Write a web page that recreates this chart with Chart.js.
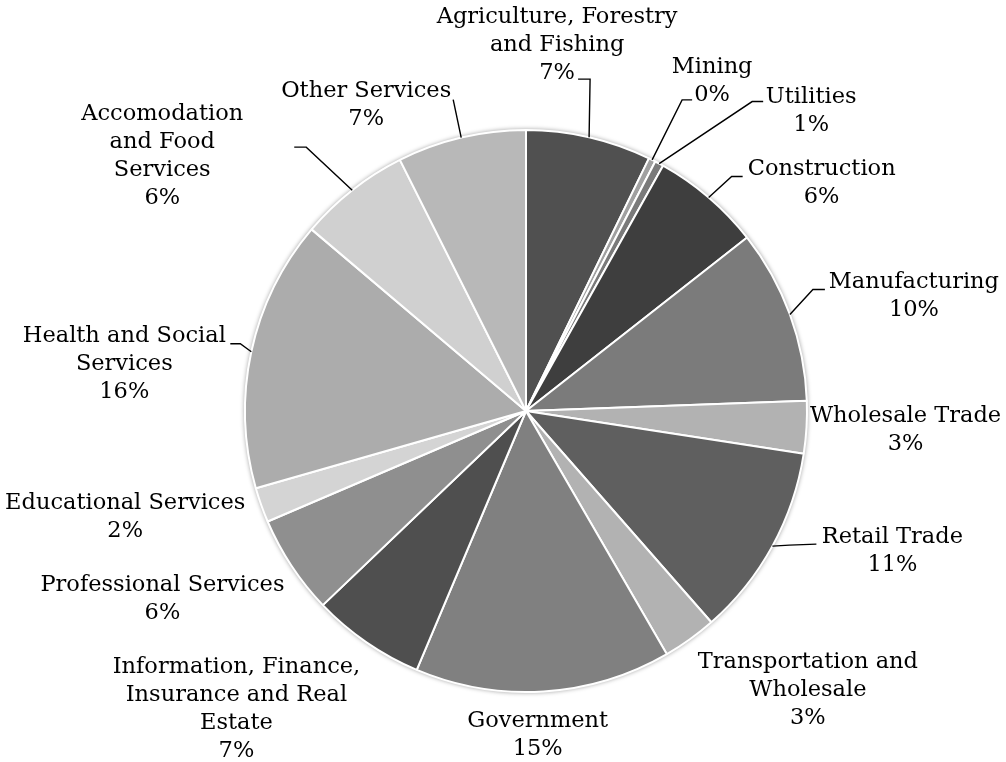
<!DOCTYPE html>
<html>
<head>
<meta charset="utf-8">
<script src="https://cdn.jsdelivr.net/npm/chart.js@4.4.0/dist/chart.umd.min.js"></script>
<style>
  html, body { margin: 0; padding: 0; background: #fff; }
  #wrap { width: 1006px; height: 762px; }
</style>
</head>
<body>
<div id="wrap"><canvas id="grafico" width="1006" height="762"></canvas></div>
<script>
// Sectors (label lines as they wrap in the original)
const setores = [
  ['Agriculture, Forestry', 'and Fishing'],
  ['Mining'],
  ['Utilities'],
  ['Construction'],
  ['Manufacturing'],
  ['Wholesale Trade'],
  ['Retail Trade'],
  ['Transportation and', 'Wholesale'],
  ['Government'],
  ['Information, Finance,', 'Insurance and Real', 'Estate'],
  ['Professional Services'],
  ['Educational Services'],
  ['Health and Social', 'Services'],
  ['Accomodation', 'and Food', 'Services'],
  ['Other Services']
];

// Share of each sector (percent)
const valores = [7.2, 0.4, 0.5, 6.3, 10.0, 3.0, 11.1, 3.1, 14.7, 6.5, 5.7, 2.0, 15.6, 6.4, 7.4];

const cores = ['#505050', '#a0a0a0', '#7a7a7a', '#3e3e3e', '#7b7b7b', '#b2b2b2', '#5f5f5f',
  '#b2b2b2', '#808080', '#4f4f4f', '#8f8f8f', '#d4d4d4', '#acacac', '#d0d0d0', '#b8b8b8'];

// Label placement: offset of the text block centre from the slice's outer mid point
const posRotulo = [
  [-32, -92], [60, -79], [152, -52], [113, -14], [124, -18], [99, 3], [120, 5],
  [118, 51], [-6, 44], [-130, 67], [-129, 33], [-136, 12], [-127, 12], [-190, -34], [-95, -32]
];
// Leader lines: [start, elbow] offsets from the slice's outer mid point (null = none)
const guias = [
  [[-11, -58], [1, -58]], [[40, -60], [30, -60]], [[104, -62], [93, -62]],
  [[34, -21], [23, -21]], [[35, -25], [23, -25]], null, [[44, -2], [17, -1]],
  null, null, null, null, null, [[-21, -8], [-11, -8]], [[-58, -43], [-46, -43]],
  [[-8, -38], [-8, -38]]
];

const fonte = '22.5px "DejaVu Serif", serif';
const alturaLinha = 28;

const sombraPizza = {
  id: 'sombraPizza',
  beforeDatasetsDraw(chart) {
    const arc = chart.getDatasetMeta(0).data[0];
    if (!arc) return;
    const ctx = chart.ctx;
    ctx.save();
    ctx.beginPath();
    ctx.arc(arc.x, arc.y, arc.outerRadius + 1, 0, Math.PI * 2);
    ctx.shadowColor = 'rgba(0,0,0,0.35)';
    ctx.shadowBlur = 4;
    ctx.fillStyle = '#d8d8d8';
    ctx.fill();
    ctx.restore();
  }
};

const rotulos = {
  id: 'rotulos',
  afterDatasetsDraw(chart) {
    const ctx = chart.ctx;
    const total = valores.reduce((a, b) => a + b, 0);
    ctx.save();
    chart.getDatasetMeta(0).data.forEach(function(arc, i) {
      const meio = (arc.startAngle + arc.endAngle) / 2;
      const px = arc.x + arc.outerRadius * Math.cos(meio);
      const py = arc.y + arc.outerRadius * Math.sin(meio);

      // leader line
      if (guias[i]) {
        ctx.beginPath();
        ctx.moveTo(px + guias[i][0][0], py + guias[i][0][1]);
        ctx.lineTo(px + guias[i][1][0], py + guias[i][1][1]);
        ctx.lineTo(px, py);
        ctx.strokeStyle = '#000';
        ctx.lineWidth = 1.4;
        ctx.stroke();
      }

      // text block
      const linhas = setores[i].concat([Math.round(valores[i] / total * 100) + '%']);
      const cx = px + posRotulo[i][0];
      const cy = py + posRotulo[i][1];
      ctx.font = fonte;
      ctx.fillStyle = '#000';
      ctx.textAlign = 'center';
      ctx.textBaseline = 'middle';
      const y0 = cy - (linhas.length - 1) * alturaLinha / 2;
      linhas.forEach(function(t, k) {
        ctx.fillText(t, cx, y0 + k * alturaLinha);
      });
    });
    ctx.restore();
  }
};

const ctxGrafico = document.getElementById('grafico').getContext('2d');
const grafico = new Chart(ctxGrafico, {
  type: 'pie',
  data: {
    labels: setores,
    datasets: [{
      data: valores,
      backgroundColor: cores,
      borderColor: '#ffffff',
      borderWidth: 2
    }]
  },
  options: {
    responsive: false,
    animation: { duration: 0 },
    layout: { padding: { top: 129, bottom: 69, left: 46, right: 0 } },
    plugins: {
      legend: { display: false },
      tooltip: { enabled: false }
    }
  },
  plugins: [sombraPizza, rotulos]
});
</script>
</body>
</html>
